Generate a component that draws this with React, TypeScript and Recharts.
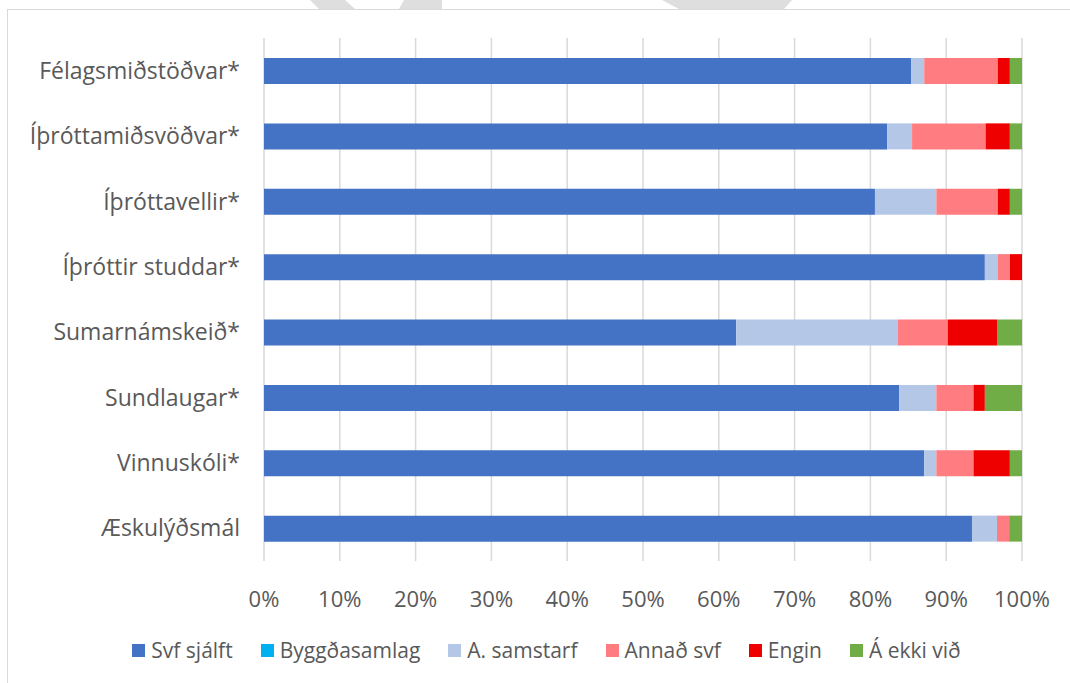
import { BarChart, Bar, XAxis, YAxis, CartesianGrid, Legend } from "recharts";

const categories = [
  "Félagsmiðstöðvar*",
  "Íþróttamiðsvöðvar*",
  "Íþróttavellir*",
  "Íþróttir studdar*",
  "Sumarnámskeið*",
  "Sundlaugar*",
  "Vinnuskóli*",
  "Æskulýðsmál",
];

// percentages
const svfSjalft = [85.4, 82.2, 80.6, 95.1, 62.3, 83.8, 87.1, 93.4];
const byggdasamlag = [0, 0, 0, 0, 0, 0, 0, 0];
const aSamstarf = [1.7, 3.3, 8.1, 1.7, 21.3, 4.9, 1.6, 3.3];
const annadSvf = [9.7, 9.7, 8.1, 1.6, 6.6, 4.9, 4.9, 1.6];
const engin = [1.6, 3.2, 1.6, 1.6, 6.5, 1.5, 4.8, 0];
const aEkkiVid = [1.6, 1.6, 1.6, 0, 3.3, 4.9, 1.6, 1.7];

const xTicks = [0, 0.1, 0.2, 0.3, 0.4, 0.5, 0.6, 0.7, 0.8, 0.9, 1];

const data = categories.map((name, i) => ({
  name,
  svf: svfSjalft[i],
  bygg: byggdasamlag[i],
  samst: aSamstarf[i],
  annad: annadSvf[i],
  engin: engin[i],
  ekki: aEkkiVid[i],
}));

const series = [
  { key: "svf", label: "Svf sjálft", color: "#4472C4" },
  { key: "bygg", label: "Byggðasamlag", color: "#00B0F0" },
  { key: "samst", label: "A. samstarf", color: "#B4C7E7" },
  { key: "annad", label: "Annað svf", color: "#FF7C80" },
  { key: "engin", label: "Engin", color: "#EE0000" },
  { key: "ekki", label: "Á ekki við", color: "#70AD47" },
];

const font = "'Open Sans', sans-serif";

// legend in series order, like the original
function LegendRow() {
  return (
    <div style={{ display: "flex", justifyContent: "center", alignItems: "center", paddingLeft: 51 }}>
      {series.map((s) => (
        <div key={s.key} style={{ display: "flex", alignItems: "center", marginRight: 28 }}>
          <span style={{ width: 13, height: 13, background: s.color, marginRight: 6, display: "inline-block" }} />
          <span style={{ color: "#595959", fontSize: 21, fontFamily: font }}>{s.label}</span>
        </div>
      ))}
    </div>
  );
}

export default function App() {
  return (
    <div
      style={{
        position: "absolute",
        left: 0,
        top: 0,
        width: 1070,
        height: 683,
        overflow: "hidden",
        background: "#fff",
        fontFamily: font,
      }}
    >
      {/* faded watermark pieces at the top edge */}
      <svg width={1070} height={10} style={{ position: "absolute", left: 0, top: 0 }}>
        <polygon points="310,0 345,0 355,9 319,9" fill="#dedede" />
        <polygon points="404,0 442,0 442,9 399,9" fill="#dedede" />
        <polygon points="662,0 792,0 784,9 679,9" fill="#dedede" />
      </svg>
      {/* chart frame */}
      <div
        style={{
          position: "absolute",
          left: 7,
          top: 9,
          width: 1100,
          height: 700,
          border: "1px solid #d9d9d9",
        }}
      />
      <div style={{ position: "absolute", left: 0, top: 0 }}>
        <BarChart
          width={1070}
          height={683}
          data={data}
          layout="vertical"
          stackOffset="expand"
          barSize={26}
          margin={{ top: 38, right: 48, left: 0, bottom: 22 }}
        >
          <CartesianGrid horizontal={false} stroke="#d9d9d9" strokeWidth={1.5} />
          <XAxis
            type="number"
            domain={[0, 1]}
            ticks={xTicks}
            tickFormatter={(v: number) => `${Math.round(v * 100)}%`}
            axisLine={false}
            tickLine={false}
            tickSize={0}
            tickMargin={30}
            height={40}
            interval={0}
            tick={{ fill: "#595959", fontSize: 22, fontFamily: font }}
          />
          <YAxis
            type="category"
            dataKey="name"
            width={264}
            axisLine={false}
            tickLine={false}
            tickSize={0}
            tickMargin={24}
            interval={0}
            tick={{ fill: "#595959", fontSize: 23, fontFamily: font }}
          />
          <Legend
            verticalAlign="bottom"
            height={60}
            content={() => <LegendRow />}
            wrapperStyle={{ top: 636, left: 0, width: 1070 }}
          />
          {series.map((s) => (
            <Bar
              key={s.key}
              dataKey={s.key}
              name={s.label}
              stackId="a"
              fill={s.color}
              isAnimationActive={false}
            />
          ))}
        </BarChart>
      </div>
    </div>
  );
}
